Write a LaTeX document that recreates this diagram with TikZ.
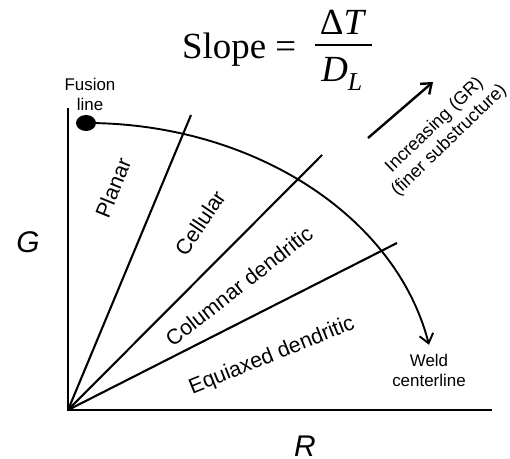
\documentclass[tikz,border=0pt]{standalone}
\usepackage{amsmath}
\usepackage{fontspec}
\setmainfont{Liberation Serif}
\setsansfont{Liberation Sans}
\usepackage{tikz}
\usetikzlibrary{calc,positioning}
\usetikzlibrary{arrows.meta}

\begin{document}
\begin{tikzpicture}[x=1bp,y=1bp]
    \tikzstyle{region}=[font=\sffamily\fontsize{21.5}{24}\selectfont,inner sep=0]
    \tikzstyle{note}=[font=\sffamily\fontsize{17}{20}\selectfont,align=center,inner sep=0]
    \tikzstyle{axisname}=[font=\sffamily\itshape\fontsize{30}{32}\selectfont,inner sep=0]
    \tikzstyle{ray}=[line width=2.1bp]
    \tikzstyle{serif}=[font=\fontsize{37}{44}\selectfont,inner sep=0]
    \useasboundingbox (0,0) rectangle (510,459);
    \coordinate (O) at (68,49);
    \coordinate (gtop) at (68,351);
    \coordinate (rend) at (492,49);
    \draw[line width=2.1bp] (gtop) -- (O) -- (rend);
    \node[axisname] (G) at (28,217) {G};
    \node[axisname] (R) at (305,13) {R};
    % slope formula
    \node[serif,anchor=base west] (slope) at (182,400) {Slope =};
    \node[serif,anchor=base] (num) at (343,424) {Δ\textit{T}};
    \node[serif,anchor=base] (den) at (342,377) {\textit{D}\textsubscript{\textit{L}}};
    \draw[line width=1.6bp] (315,414) -- (372,414);
    \draw[line width=1.9bp,-{Straight Barb[length=9bp,width=14bp]}] (86,336) arc (90:11.5:350 and 277) coordinate (weldtip);
    \fill (86,336) ellipse (10 and 8);
    \node[note] (fusion) at (90,365) {Fusion\\line};
    \node[note,below=9bp of weldtip] (weld) {Weld\\centerline};
    \draw[ray] (O) -- (191,344);
    \draw[ray] (O) -- (322,304);
    \draw[ray] (O) -- (397,216);
    \node[region,rotate=68] (planar) at (113,271) {Planar};
    \node[region,rotate=56] (cellular) at (200,236) {Cellular};
    \node[region,rotate=38] (columnar) at (239,173) {Columnar dendritic};
    \node[region,rotate=22] (equiaxed) at (272,103) {Equiaxed dendritic};
    \draw[line width=2.4bp,-{Straight Barb[length=9bp,width=14bp]}] (368,321) -- (433,377);
    \node[note,rotate=44,font=\sffamily\fontsize{18.2}{21}\selectfont] (incr) at (442,326) {Increasing (GR)\\(finer substructure)};
\end{tikzpicture}
\end{document}
